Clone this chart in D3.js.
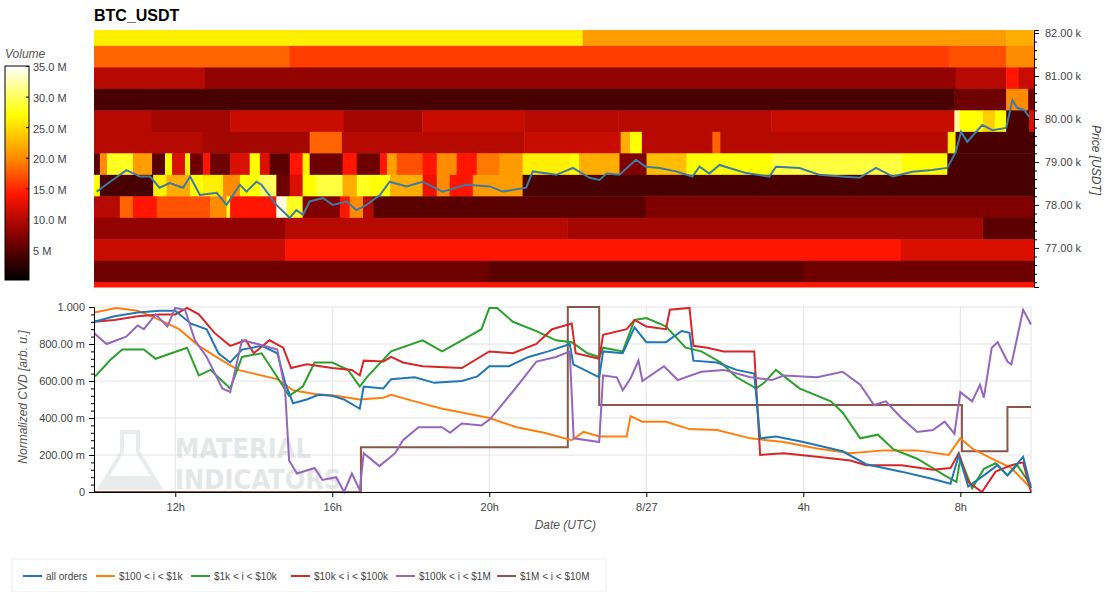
<!DOCTYPE html>
<html><head><meta charset="utf-8">
<script src="https://cdn.jsdelivr.net/npm/d3@7/dist/d3.min.js"></script>
<style>body{margin:0;background:#fff;font-family:"Liberation Sans",Arial,sans-serif;}</style>
</head><body><svg id="c" width="1105" height="592"></svg>
<script>
// ---------- DATA ----------
const priceEdges = [82.07,81.7,81.2,80.7,80.2,79.7,79.2,78.7,78.2,77.7,77.2,76.7,76.2,76.09];
const tStart = 9.93, tEnd = 33.9;
// heat rows (top to bottom): [start hour, volume M]
const heatRows = [
 [[9.93,26],[22.39,21],[33.19,22]],
 [[9.93,18],[14.92,16],[31.74,17],[33.19,20]],
 [[9.93,10],[12.76,8],[31.9,10],[33.19,14],[33.5,11]],
 [[9.93,4],[31.87,6],[33.19,20],[33.75,6]],
 [[9.93,10],[11.4,9],[13.4,11],[16.3,9],[18.3,11],[20.9,10],[23.3,10],[27.2,11],[31.87,32],[32.0,27],[32.6,24],[32.9,27],[33.19,4],[33.78,12]],
 [[9.93,10],[12.7,9],[15.43,18],[16.25,10],[20.9,11],[23.36,22],[23.6,27],[23.9,10],[25.7,18],[25.9,10],[31.7,26],[31.9,4]],
 [[9.93,5],[10.08,20],[10.26,28],[10.92,21],[11.41,5],[11.74,27],[11.92,12],[12.25,26],[12.38,6],[12.71,14],[12.89,6],[13.4,12],[13.9,27],[14.16,12],[14.41,5],[14.92,14],[15.25,26],[15.43,6],[16.27,14],[16.63,6],[17.22,14],[17.4,21],[17.65,17],[18.31,14],[18.67,20],[19.18,14],[19.69,19],[20.27,21],[20.86,26],[22.06,27],[22.3,22],[23.33,7],[24.02,23],[25.04,27],[27.23,29],[30.54,27],[31.69,4]],
 [[9.93,27],[10.08,4],[11.44,26],[11.78,22],[12.38,27],[12.71,26],[13.22,20],[13.65,27],[14.16,30],[14.58,6],[14.92,12],[15.25,27],[15.6,29],[16.27,22],[16.63,28],[16.96,27],[17.48,22],[18.31,13],[18.67,20],[19.0,14],[19.59,21],[20.86,4]],
 [[9.93,10],[10.59,18],[10.92,14],[11.53,17],[12.89,20],[13.31,28],[13.4,14],[14.58,34],[14.84,28],[15.25,7],[16.2,14],[16.45,20],[16.79,10],[17.05,5],[24.0,7]],
 [[9.93,8],[14.8,10],[22.0,9],[32.6,5]],
 [[9.93,11],[14.8,14],[30.5,12]],
 [[9.93,6],[20.0,5],[28.0,6]],
 [[9.93,14]]
];
const priceLine = [[10.0,78.31],[10.34,78.54],[10.76,78.81],[11.1,78.66],[11.36,78.66],[11.6,78.40],[11.86,78.51],[12.2,78.40],[12.38,78.66],[12.63,78.23],[13.06,78.28],[13.31,78.0],[13.65,78.47],[13.82,78.31],[14.07,78.54],[14.2,78.47],[14.58,78.0],[14.92,77.70],[15.09,77.88],[15.26,77.77],[15.43,78.08],[15.77,78.16],[16.02,78.0],[16.37,78.08],[16.62,77.88],[16.88,78.0],[17.22,78.23],[17.47,78.54],[17.9,78.43],[18.31,78.54],[18.82,78.31],[19.42,78.47],[20.02,78.43],[20.35,78.31],[20.95,78.40],[21.12,78.78],[21.72,78.70],[22.14,78.86],[22.57,78.63],[22.82,78.58],[23.0,78.73],[23.33,78.70],[23.75,79.05],[24.0,78.89],[24.35,78.86],[24.77,78.78],[25.19,78.66],[25.37,78.89],[25.62,78.73],[25.88,78.93],[26.56,78.74],[27.15,78.66],[27.32,78.89],[27.92,78.86],[28.43,78.70],[29.0,78.66],[29.45,78.63],[29.87,78.86],[30.3,78.66],[30.8,78.77],[31.3,78.81],[31.69,78.86],[31.91,79.24],[32.04,79.70],[32.2,79.47],[32.58,79.86],[32.84,79.74],[33.19,79.79],[33.35,80.44],[33.47,80.26],[33.65,80.21],[33.78,80.05]];

const seriesNames = ["all orders","$100 < i < $1k","$1k < i < $10k","$10k < i < $100k","$100k < i < $1M","$1M < i < $10M"];
const seriesColors = ["#1f77b4","#ff7f0e","#2ca02c","#d62728","#9467bd","#8c564b"];
const allOrders = [[9.93,.92],[10.45,.95],[11.04,.97],[11.6,.98],[12,.98],[12.4,.91],[12.8,.88],[13.1,.75],[13.4,.70],[13.7,.77],[14.2,.79],[14.6,.75],[14.8,.59],[15.0,.48],[15.35,.50],[15.65,.525],[16,.52],[16.3,.50],[16.7,.45],[16.8,.57],[17.3,.56],[17.5,.61],[18.1,.62],[18.6,.59],[19.3,.60],[19.7,.625],[20,.68],[20.5,.68],[21,.73],[21.5,.76],[22.05,.80],[22.14,.69],[22.8,.62],[22.9,.76],[23.4,.75],[23.7,.89],[24.0,.81],[24.5,.81],[24.9,.87],[25.1,.86],[25.2,.71],[25.8,.70],[26.3,.66],[26.75,.64],[26.9,.29],[27.3,.30],[28.0,.27],[29.0,.22],[29.6,.15],[30.5,.11],[31.3,.07],[31.75,.045],[31.96,.20],[32.2,.03],[32.6,.09],[32.95,.145],[33.2,.09],[33.6,.19],[33.8,.02]];
const s100 = [[9.93,.97],[10.5,.995],[11.04,.98],[11.6,.93],[12.1,.88],[12.6,.79],[13.2,.71],[13.6,.66],[14,.64],[14.6,.61],[15.0,.55],[15.55,.53],[16.1,.52],[16.7,.50],[17.3,.51],[17.5,.525],[18.1,.49],[18.8,.45],[19.3,.43],[20,.40],[20.7,.35],[21.4,.32],[22.1,.28],[22.4,.325],[22.8,.30],[23.5,.30],[23.6,.41],[23.9,.38],[24.5,.38],[25.1,.34],[25.8,.335],[26.65,.29],[27.5,.27],[28.35,.235],[29.2,.21],[30.05,.225],[30.9,.225],[31.7,.20],[32.0,.29],[32.3,.235],[32.8,.18],[33.3,.13],[33.8,.02]];
const s1k = [[9.96,.625],[10.35,.715],[10.65,.77],[11.2,.77],[11.5,.72],[11.9,.75],[12.3,.78],[12.6,.63],[12.9,.66],[13.4,.56],[13.7,.73],[14.2,.75],[14.6,.62],[14.9,.52],[15.25,.57],[15.55,.70],[16,.70],[16.4,.66],[16.7,.57],[16.9,.625],[17.5,.76],[18.3,.82],[18.8,.76],[19.3,.82],[19.8,.88],[20,.995],[20.2,.995],[20.6,.92],[21.2,.87],[21.7,.82],[22.1,.81],[22.5,.75],[22.8,.73],[22.9,.78],[23.4,.76],[23.7,.93],[24.0,.94],[24.5,.895],[25.0,.78],[25.4,.76],[25.9,.70],[26.3,.62],[26.8,.56],[27.0,.59],[27.3,.66],[27.9,.56],[28.7,.49],[29.0,.43],[29.45,.29],[29.9,.31],[30.3,.23],[30.9,.18],[31.6,.09],[31.9,.055],[32.0,.18],[32.3,.02],[32.6,.125],[32.9,.155],[33.2,.09],[33.45,.145],[33.8,.035]];
const s10k = [[9.93,.92],[10.45,.93],[11.04,.95],[11.6,.96],[12,.96],[12.3,.995],[12.6,.96],[13,.86],[13.4,.79],[13.8,.82],[14,.75],[14.4,.82],[14.75,.78],[14.95,.67],[15.35,.69],[16,.67],[16.5,.66],[16.7,.63],[16.8,.71],[17.3,.705],[17.5,.73],[17.8,.70],[18.3,.68],[19.3,.67],[20,.76],[20.6,.75],[21.2,.80],[21.6,.88],[22.1,.91],[22.2,.75],[22.8,.72],[22.9,.85],[23.5,.88],[23.7,.93],[24.0,.895],[24.5,.88],[24.6,.985],[25.1,.995],[25.2,.79],[25.55,.78],[25.97,.76],[26.75,.76],[26.9,.20],[27.5,.21],[28.35,.19],[29.2,.17],[29.6,.145],[30.5,.145],[31.3,.12],[31.75,.13],[31.96,.21],[32.2,.055],[32.55,0],[32.9,.11],[33.3,.145],[33.6,.16],[33.8,0]];
const s100k = [[9.93,.86],[10.25,.80],[10.75,.84],[11.04,.90],[11.2,.88],[11.5,.96],[11.8,.895],[12,.995],[12.25,.985],[12.5,.82],[12.8,.73],[13.2,.56],[13.4,.54],[13.7,.82],[14.1,.80],[14.6,.77],[14.8,.55],[14.9,.17],[15.1,.10],[15.55,.13],[15.75,.065],[16.1,.08],[16.3,0],[16.5,.10],[16.7,.01],[16.8,.21],[17.2,.14],[17.6,.21],[17.8,.28],[18.2,.35],[18.8,.35],[19.0,.32],[19.3,.37],[19.8,.36],[20,.39],[20.2,.44],[20.7,.57],[21.2,.705],[21.7,.73],[22.05,.76],[22.15,.29],[22.8,.27],[22.9,.63],[23.25,.62],[23.4,.55],[23.6,.615],[23.8,.71],[23.9,.60],[24.45,.68],[24.8,.605],[25.4,.65],[25.97,.66],[26.65,.62],[27.2,.605],[27.5,.63],[28.35,.62],[29.0,.65],[29.45,.58],[29.8,.47],[30.1,.49],[30.5,.40],[30.9,.325],[31.3,.335],[31.6,.38],[31.85,.315],[32.0,.54],[32.3,.49],[32.5,.58],[32.6,.51],[32.8,.78],[32.95,.81],[33.2,.705],[33.3,.69],[33.6,.985],[33.8,.905]];
const s1M = [[9.93,0],[16.73,0],[16.73,.242],[22.0,.242],[22.0,1],[22.8,1],[22.8,.47],[32.04,.47],[32.04,.22],[33.2,.22],[33.2,.46],[33.8,.46]];
const seriesData = [allOrders,s100,s1k,s10k,s100k,s1M];

const xTickVals = [12,16,20,24,28,32];
const xTickLabels = ["12h","16h","20h","8/27","4h","8h"];
const cvdTicks = [0,.2,.4,.6,.8,1];
const cvdLabels = ["0","200.00 m","400.00 m","600.00 m","800.00 m","1.000"];
const priceTicks = [77,78,79,80,81,82];
const volTicks = [5,10,15,20,25,30,35];
const volLabels = ["5 M","10.0 M","15.0 M","20.0 M","25.0 M","30.0 M","35.0 M"];

// ---------- DRAW ----------
const svg = d3.select("#c");
const font = '"Liberation Sans",Arial,sans-serif';
const color = d3.scaleLinear().domain([0,7,14,20,27,35])
  .range(["#000000","#800000","#ff1500","#ff8c00","#ffff00","#ffffff"]).clamp(true);

const xT = d3.scaleLinear().domain([tStart,tEnd]).range([94,1034]);
const yP = d3.scaleLinear().domain([76.09,82.07]).range([287,30]);

const heat = svg.append("g");
heatRows.forEach((segs,r)=>{
  segs.forEach((s,i)=>{
    const t1 = i<segs.length-1 ? segs[i+1][0] : tEnd;
    heat.append("rect").attr("x",xT(s[0])).attr("width",Math.max(0,xT(t1)-xT(s[0]))+0.5)
      .attr("y",yP(priceEdges[r])).attr("height",yP(priceEdges[r+1])-yP(priceEdges[r])+0.5)
      .attr("fill",color(s[1]));
  });
});
svg.append("path").datum(priceLine).attr("fill","none").attr("stroke","#3d7aa6").attr("stroke-width",2)
  .attr("d",d3.line().x(d=>xT(d[0])).y(d=>yP(d[1])));

// right price axis
const pa = svg.append("g").attr("transform","translate(1034,0)")
  .call(d3.axisRight(yP).tickValues(priceTicks).tickFormat(d=>d.toFixed(2)+" k").tickSize(5).tickPadding(6));
pa.select(".domain").attr("stroke","#000");
pa.selectAll("text").attr("font-family",font).attr("font-size",11).attr("fill","#444");
const minor = d3.range(76.2,82.05,0.2).filter(v=>Math.abs(v-Math.round(v))>0.05);
svg.append("g").attr("transform","translate(1034,0)").call(d3.axisRight(yP).tickValues(minor).tickFormat("").tickSize(3)).select(".domain").remove();
svg.append("text").attr("transform","translate(1092,160) rotate(90)").attr("text-anchor","middle")
  .attr("font-family",font).attr("font-size",12).attr("font-style","italic").attr("fill","#444").text("Price [USDT]");

// title
svg.append("text").attr("x",94).attr("y",21).attr("font-family",font).attr("font-weight","bold").attr("font-size",16).text("BTC_USDT");

// colorbar
const cb = d3.scaleLinear().domain([0,35]).range([280,66]);
const defs = svg.append("defs");
const gr = defs.append("linearGradient").attr("id","cbg").attr("x1",0).attr("y1",1).attr("x2",0).attr("y2",0);
[0,7,14,20,27,35].forEach(v=>gr.append("stop").attr("offset",v/35).attr("stop-color",color(v)));
svg.append("rect").attr("x",5).attr("y",66).attr("width",24).attr("height",214).attr("fill","url(#cbg)").attr("stroke","#000").attr("stroke-width",1);
const ca = svg.append("g").attr("transform","translate(29,0)").call(d3.axisRight(cb).tickValues(volTicks).tickFormat((d,i)=>volLabels[i]).tickSize(-3).tickPadding(4));
ca.select(".domain").remove();
ca.selectAll("text").attr("font-family",font).attr("font-size",11).attr("fill","#444").attr("dy","0.45em");
svg.append("text").attr("x",5).attr("y",58).attr("font-family",font).attr("font-size",12).attr("font-style","italic").attr("fill","#555").text("Volume");

// lower chart
const xL = d3.scaleLinear().domain([tStart,33.8]).range([94,1031]);
const yL = d3.scaleLinear().domain([0,1]).range([492,307]);
const grid = svg.append("g");
cvdTicks.forEach(v=>grid.append("line").attr("x1",94).attr("x2",1031).attr("y1",yL(v)).attr("y2",yL(v)).attr("stroke","#e4e4e4"));
xTickVals.forEach(v=>grid.append("line").attr("x1",xL(v)).attr("x2",xL(v)).attr("y1",307).attr("y2",492).attr("stroke","#e4e4e4"));
grid.append("line").attr("x1",1031).attr("x2",1031).attr("y1",307).attr("y2",492).attr("stroke","#e4e4e4");

// watermark
const wm = svg.append("g").attr("opacity",0.55);
wm.append("path").attr("d","M122,432 L138,432 L138,452 L160,488 L100,488 L122,452 Z").attr("fill","none").attr("stroke","#d6dedd").attr("stroke-width",4);
wm.append("path").attr("d","M108,476 L152,476 L158,486 L102,486 Z").attr("fill","#d6dedd");
wm.append("text").attr("x",175).attr("y",458).attr("font-family","Liberation Sans Narrow,DejaVu Sans Condensed,sans-serif").attr("font-stretch","condensed").attr("font-weight","bold").attr("font-size",27).attr("fill","#cfd4d4").text("MATERIAL");
wm.append("text").attr("x",175).attr("y",489).attr("font-family","Liberation Sans Narrow,DejaVu Sans Condensed,sans-serif").attr("font-stretch","condensed").attr("font-weight","bold").attr("font-size",27).attr("fill","#cfd4d4").text("INDICATORS");

defs.append("clipPath").attr("id","lc").append("rect").attr("x",94).attr("y",303).attr("width",940).attr("height",192);
const lines = svg.append("g").attr("clip-path","url(#lc)");
const lg = d3.line().x(d=>xL(d[0])).y(d=>yL(d[1]));
[5,1,2,3,0,4].forEach(i=>{
  lines.append("path").datum(seriesData[i]).attr("fill","none").attr("stroke",seriesColors[i]).attr("stroke-width",2).attr("d",lg);
});

const ya = svg.append("g").attr("transform","translate(94,0)").call(d3.axisLeft(yL).tickValues(cvdTicks).tickFormat((d,i)=>cvdLabels[i]).tickSize(5).tickPadding(4));
ya.selectAll("text").attr("font-family",font).attr("font-size",11).attr("fill","#444");
svg.append("g").attr("transform","translate(94,0)").call(d3.axisLeft(yL).tickValues(d3.range(0.04,1,0.04).filter(v=>Math.abs(v*5-Math.round(v*5))>0.01)).tickFormat("").tickSize(3)).select(".domain").remove();
const xa = svg.append("g").attr("transform","translate(0,492)").call(d3.axisBottom(xL).tickValues(xTickVals).tickFormat((d,i)=>xTickLabels[i]).tickSize(5).tickPadding(6).tickSizeOuter(0));
xa.selectAll("text").attr("font-family",font).attr("font-size",11).attr("fill","#444");
svg.append("text").attr("x",596).attr("y",529).attr("text-anchor","end").attr("font-family",font).attr("font-size",12).attr("font-style","italic").attr("fill","#555").text("Date (UTC)");
svg.append("text").attr("transform","translate(27,397) rotate(-90)").attr("text-anchor","middle").attr("font-family",font).attr("font-size",12).attr("font-style","italic").attr("fill","#555").text("Normalized CVD [arb. u.]");

// legend
svg.append("rect").attr("x",12).attr("y",559).attr("width",594).attr("height",33).attr("fill","#fff").attr("stroke","#eee");
const legX = [23,96,191,291,396,497];
seriesNames.forEach((n,i)=>{
  svg.append("line").attr("x1",legX[i]).attr("x2",legX[i]+19).attr("y1",576).attr("y2",576).attr("stroke",seriesColors[i]).attr("stroke-width",2);
  svg.append("text").attr("x",legX[i]+23).attr("y",580).attr("font-family",font).attr("font-size",10).attr("fill","#444").text(n);
});
</script></body></html>
